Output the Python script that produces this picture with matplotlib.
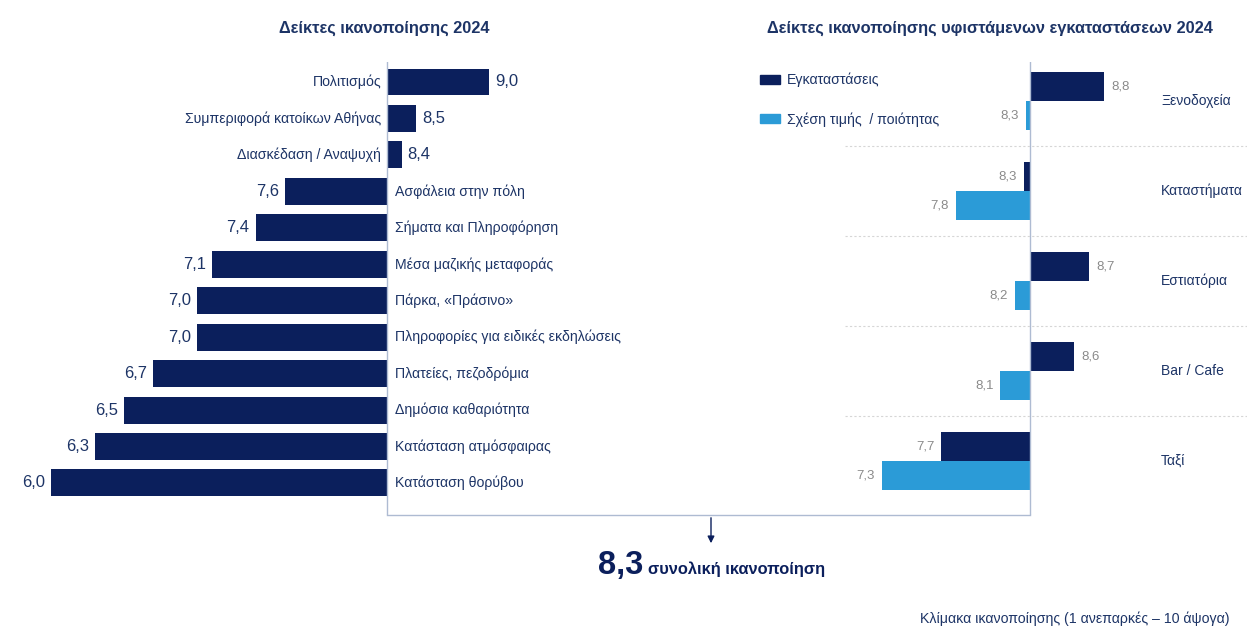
import matplotlib
matplotlib.use('Agg')
import matplotlib.pyplot as plt
from matplotlib.patches import Patch

plt.rcParams['font.family'] = ['Liberation Sans', 'DejaVu Sans']

# overall satisfaction (baseline of both panels)
total = 8.3

aspects = ['Πολιτισμός', 'Συμπεριφορά κατοίκων Αθήνας', 'Διασκέδαση / Αναψυχή',
           'Ασφάλεια στην πόλη', 'Σήματα και Πληροφόρηση', 'Μέσα μαζικής μεταφοράς',
           'Πάρκα, «Πράσινο»', 'Πληροφορίες για ειδικές εκδηλώσεις', 'Πλατείες, πεζοδρόμια',
           'Δημόσια καθαριότητα', 'Κατάσταση ατμόσφαιρας', 'Κατάσταση θορύβου']
scores = [9.0, 8.5, 8.4, 7.6, 7.4, 7.1, 7.0, 7.0, 6.7, 6.5, 6.3, 6.0]

places = ['Ξενοδοχεία', 'Καταστήματα', 'Εστιατόρια', 'Bar / Cafe', 'Ταξί']
facilities = [8.8, 8.26, 8.7, 8.6, 7.7]
value_for_money = [8.27, 7.8, 8.2, 8.1, 7.3]

navy = '#0b1f5c'
light = '#2b9bd7'
text_blue = '#1d3466'
frame = '#aebbd2'

W, H = 1247, 630
fig = plt.figure(figsize=(W / 100, H / 100), dpi=100)

def rect(x0, y0, x1, y1):
    # pixel box -> figure fraction
    return [x0 / W, 1 - y1 / H, (x1 - x0) / W, (y1 - y0) / H]

# overlay in pixel coords for the frame, arrow and notes
ov = fig.add_axes([0, 0, 1, 1])
ov.set_xlim(0, W)
ov.set_ylim(H, 0)
ov.axis('off')

def fmt(v):
    return f'{v:.1f}'.replace('.', ',')

# ---- left panel
px_l = 146.0
ax1 = fig.add_axes(rect(0, 62, 700, 515))
ax1.patch.set_alpha(0)
ax1.set_xlim(total - 387 / px_l, total + (700 - 387) / px_l)
ax1.set_ylim((515 - 82) / 36.45, -(82 - 62) / 36.45)
ax1.axis('off')
ypos = list(range(len(aspects)))
ax1.barh(ypos, [v - total for v in scores], left=total, height=0.74, color=navy)
ax1.axvline(total, color=frame, lw=1)
off = 6 / px_l
for i, (name, v) in enumerate(zip(aspects, scores)):
    if v >= total:
        ax1.text(v + off, i, fmt(v), ha='left', va='center', fontsize=12, color=text_blue)
        ax1.text(total - off, i, name, ha='right', va='center', fontsize=10.2, color=text_blue)
    else:
        ax1.text(v - off, i, fmt(v), ha='right', va='center', fontsize=12, color=text_blue)
        ax1.text(total + 1.4 * off, i, name, ha='left', va='center', fontsize=10.2, color=text_blue)

# ---- right panel
px_r = 148.0
ax2 = fig.add_axes(rect(740, 62, W, 515))
ax2.patch.set_alpha(0)
ax2.set_xlim(total - (1030 - 740) / px_r, total + (W - 1030) / px_r)
ax2.set_ylim((515 - 101) / 90, -(101 - 62) / 90)
ax2.axis('off')
g = list(range(len(places)))
d = 0.161
ax2.barh([k - d for k in g], [v - total for v in facilities], left=total, height=0.322, color=navy)
ax2.barh([k + d for k in g], [v - total for v in value_for_money], left=total, height=0.322, color=light)
ax2.axvline(total, color=frame, lw=1)
for k in g[:-1]:
    ax2.axhline(k + 0.5, xmin=(845 - 740) / 507, xmax=1, color='#d6d6d6', lw=0.8, ls=(0, (2, 2)))
off2 = 7 / px_r
for k in g:
    for v, yy in ((facilities[k], k - d), (value_for_money[k], k + d)):
        if v >= total:
            ax2.text(v + off2, yy, fmt(v), ha='left', va='center', fontsize=9.5, color='#8a8a8a')
        else:
            ax2.text(v - off2, yy, fmt(v), ha='right', va='center', fontsize=9.5, color='#8a8a8a')
    ax2.text(total + 131 / px_r, k, places[k], ha='left', va='center', fontsize=10, color=text_blue)

fig.legend(handles=[Patch(color=navy, label='Εγκαταστάσεις'),
                    Patch(color=light, label='Σχέση τιμής  / ποιότητας')],
           loc='upper left', bbox_to_anchor=(747 / W, 1 - 60 / H), frameon=False,
           fontsize=10.2, labelcolor=text_blue, handlelength=1.4, handleheight=0.6,
           labelspacing=1.75, handletextpad=0.5)

# ---- frame, arrow, notes
ov.plot([387, 1030], [515, 515], color=frame, lw=1)
ov.annotate('', xy=(711, 546), xytext=(711, 515),
            arrowprops=dict(arrowstyle='-|>', color=navy, lw=1, mutation_scale=10))
ov.text(643, 574, '8,3', ha='right', va='baseline', fontsize=23.5, fontweight='bold', color=navy)
ov.text(648, 574, 'συνολική ικανοποίηση', ha='left', va='baseline', fontsize=11.8,
        fontweight='bold', color=navy)
ov.text(384, 28, 'Δείκτες ικανοποίησης 2024', ha='center', va='center', fontsize=11.8,
        fontweight='bold', color=text_blue)
ov.text(990, 28, 'Δείκτες ικανοποίησης υφιστάμενων εγκαταστάσεων 2024', ha='center',
        va='center', fontsize=11.8, fontweight='bold', color=text_blue)
ov.text(1229, 619, 'Κλίμακα ικανοποίησης (1 ανεπαρκές – 10 άψογα)', ha='right', va='center',
        fontsize=10.2, color=text_blue)

fig.savefig('out.png', dpi=100)
